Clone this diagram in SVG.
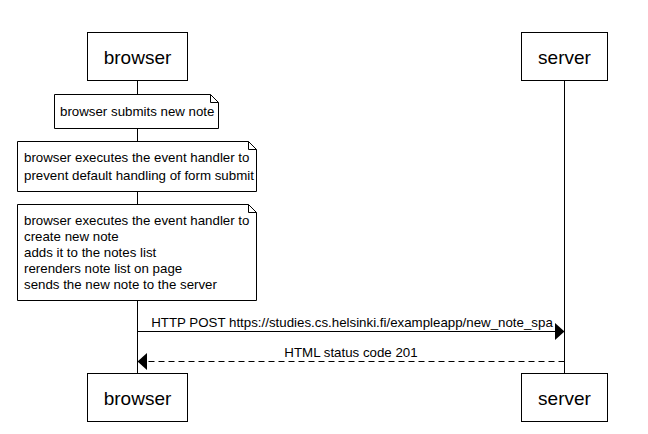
<svg xmlns="http://www.w3.org/2000/svg" width="648" height="434" viewBox="0 0 648 434">
<style>
.actor{fill:#fff;stroke:#000;stroke-width:1}
.atext{font-family:"Liberation Sans",Arial,sans-serif;font-size:19px;fill:#000;text-anchor:middle}
.life{stroke:#000;stroke-width:1}
.note{fill:#fff;stroke:#000;stroke-width:1}
.ntext{font-family:"Liberation Sans",Arial,sans-serif;font-size:13.3px;fill:#000}
.mtext{font-family:"Liberation Sans",Arial,sans-serif;font-size:13.3px;fill:#000;text-anchor:middle}
.msg{stroke:#000;stroke-width:1;fill:none}
</style>
<rect width="648" height="434" fill="#fff"/>
<g id="lifelines">
<line class="life" x1="137.5" y1="81" x2="137.5" y2="373"/>
<line class="life" x1="564.5" y1="81" x2="564.5" y2="373"/>
</g>
<g id="browser-top"><rect class="actor" x="87.5" y="32.5" width="100" height="48"/><text class="atext" x="137.5" y="64">browser</text></g>
<g id="server-top"><rect class="actor" x="521.5" y="32.5" width="86" height="48"/><text class="atext" x="564.5" y="64">server</text></g>
<g id="browser-bottom"><rect class="actor" x="87.5" y="373.5" width="100" height="48"/><text class="atext" x="137.5" y="405">browser</text></g>
<g id="server-bottom"><rect class="actor" x="521.5" y="373.5" width="86" height="48"/><text class="atext" x="564.5" y="405">server</text></g>
<g id="note1">
<path class="note" d="M54.5,94.5 H210.5 L218.5,102.5 V128.5 H54.5 Z M210.5,94.5 V102.5 H218.5"/>
<text class="ntext" x="60" y="116">browser submits new note</text>
</g>
<g id="note2">
<path class="note" d="M17.5,141.5 H248.5 L256.5,149.5 V191.5 H17.5 Z M248.5,141.5 V149.5 H256.5"/>
<text class="ntext" x="24" y="162">browser executes the event handler to</text>
<text class="ntext" x="24" y="180">prevent default handling of form submit</text>
</g>
<g id="note3">
<path class="note" d="M17.5,204.5 H248.5 L256.5,212.5 V300.5 H17.5 Z M248.5,204.5 V212.5 H256.5"/>
<text class="ntext" x="24" y="225">browser executes the event handler to</text>
<text class="ntext" x="24" y="241">create new note</text>
<text class="ntext" x="24" y="257">adds it to the notes list</text>
<text class="ntext" x="24" y="273">rerenders note list on page</text>
<text class="ntext" x="24" y="289">sends the new note to the server</text>
</g>
<g id="connectors">
<line class="msg" x1="137.5" y1="331.5" x2="556" y2="331.5"/>
<polygon points="564.5,331.5 555,323 555,340" fill="#000"/>
<text class="mtext" x="352" y="327">HTTP POST https://studies.cs.helsinki.fi/exampleapp/new_note_spa</text>
<line class="msg" x1="564.5" y1="361.5" x2="146" y2="361.5" stroke-dasharray="6,4"/>
<polygon points="137.5,361.5 147,353 147,370" fill="#000"/>
<text class="mtext" x="351" y="357">HTML status code 201</text>
</g>
</svg>
